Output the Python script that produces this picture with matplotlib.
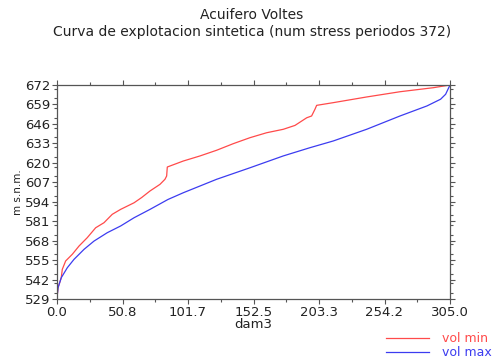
import numpy as np
import matplotlib
matplotlib.use("Agg")
import matplotlib.pyplot as plt
from matplotlib.ticker import FixedLocator, MultipleLocator, FormatStrFormatter

# Synthetic exploitation curve: volume (dam3) vs. level (m s.n.m.)
vol_min_x = [0.0, 0.8, 3.3, 4.1, 6.7, 11.9, 17.1, 23.5, 30.0, 36.5, 42.9, 49.4,
             59.8, 65.7, 72.2, 79.9, 83.8, 85.1, 85.6, 98.0, 111.0, 123.9,
             136.8, 149.8, 162.7, 175.6, 184.7, 193.8, 197.6, 200.2, 201.5,
             214.4, 240.3, 266.2, 292.1, 305.0]
vol_min_y = [529.9, 536.5, 543.2, 548.8, 554.4, 558.9, 564.4, 570.0, 576.6, 580.0,
             585.6, 588.9, 593.3, 596.8, 601.2, 605.6, 609.0, 611.2, 617.2,
             621.2, 624.6, 628.4, 632.8, 636.8, 640.1, 642.4, 645.0, 650.1,
             651.3, 655.8, 658.4, 660.2, 664.0, 667.5, 670.2, 672.0]

vol_max_x = [0.0, 0.8, 3.3, 8.0, 13.2, 21.0, 28.7, 39.0, 49.4, 59.8, 72.2, 86.1,
             98.0, 123.9, 149.8, 175.6, 196.3, 214.4, 240.3, 266.2, 287.1,
             297.7, 301.6, 305.0]
vol_max_y = [529.9, 536.5, 543.2, 549.9, 555.5, 562.2, 567.7, 573.3, 577.8, 583.3,
             588.9, 595.5, 600.0, 609.0, 616.7, 624.6, 630.1, 634.6, 642.4,
             651.3, 658.0, 662.5, 665.8, 672.0]

x_ticks = [0.0, 50.8, 101.7, 152.5, 203.3, 254.2, 305.0]
y_ticks = [529, 542, 555, 568, 581, 594, 607, 620, 633, 646, 659, 672]

W, H = 495, 363
fig = plt.figure(figsize=(W / 100, H / 100), dpi=100)
ax = fig.add_axes([57 / W, 1 - 299 / H, (450 - 57) / W, (299 - 85) / H])

red = "#ff4a4a"
blue = "#3c3cf0"
ax.plot(vol_min_x, vol_min_y, color=red, lw=0.9, label="vol min")
ax.plot(vol_max_x, vol_max_y, color=blue, lw=0.9, label="vol max")

ax.set_xlim(0, 305)
ax.set_ylim(529, 672)
ax.xaxis.set_major_locator(FixedLocator(np.linspace(0, 305, 7)))
ax.set_xticklabels([f"{v:.1f}" for v in x_ticks])
ax.xaxis.set_minor_locator(FixedLocator(np.linspace(0, 305, 13)))
ax.yaxis.set_major_locator(FixedLocator(y_ticks))
ax.yaxis.set_minor_locator(MultipleLocator(6.5))
ax.yaxis.set_major_formatter(FormatStrFormatter("%d"))

for side in ax.spines.values():
    side.set_color("#555555")
    side.set_linewidth(0.9)
ax.tick_params(which="both", direction="out", color="#555555", width=0.8,
               top=True, right=True, labelsize=9.5, pad=1.5, labelcolor="#222222")
ax.tick_params(which="major", length=3.5)
ax.tick_params(which="minor", length=2.5)

ax.set_xlabel("dam3", fontsize=9.5, labelpad=-1, color="#222222")
ax.set_ylabel("m s.n.m.", fontsize=7.5, labelpad=1, color="#222222")

fig.text(252 / W, 1 - 15 / H, "Acuifero Voltes", ha="center", va="center",
         fontsize=10, color="#222222")
fig.text(252 / W, 1 - 32 / H, "Curva de explotacion sintetica (num stress periodos 372)",
         ha="center", va="center", fontsize=10, color="#222222")

leg = ax.legend(loc="upper right", bbox_to_anchor=(492 / W, 1 - 332 / H),
                bbox_transform=fig.transFigure, frameon=False, fontsize=9,
                handlelength=3.4, handletextpad=1.1, labelspacing=0.1,
                borderpad=0, borderaxespad=0, labelcolor="linecolor")

fig.savefig("out.png", dpi=100)
